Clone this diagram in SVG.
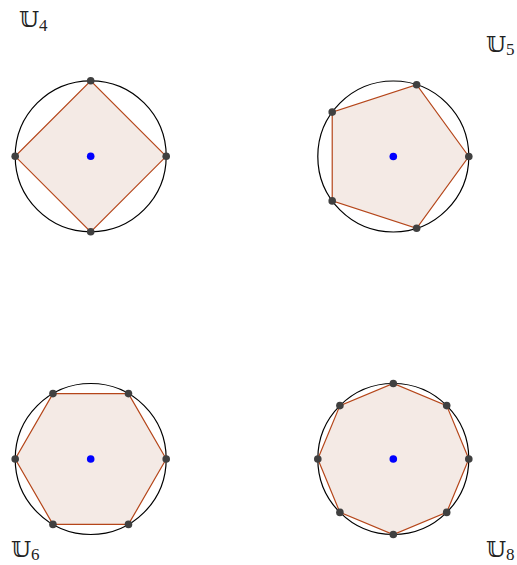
<svg xmlns="http://www.w3.org/2000/svg" width="517" height="565" viewBox="0 0 517 565">
<style>
.bg{fill:#ffffff}
.circ{fill:none;stroke:#000000;stroke-width:1.2}
.poly{fill:#f4eae5;stroke:#b5461a;stroke-width:1.2;stroke-linejoin:miter}
.v{fill:#404040}
.c{fill:#0000ff}
.lbl{font-family:"DejaVu Serif","DejaVu Sans",serif;font-size:23px;fill:#222222}
.sub{font-family:"Liberation Serif",serif;font-size:17px}
</style>
<rect class="bg" x="0" y="0" width="517" height="565"/>
<g id="U4">
<circle class="circ" cx="90.7" cy="156.3" r="75.5"/>
<polygon class="poly" points="166.2,156.3 90.7,80.8 15.2,156.3 90.7,231.8"/>
<circle class="v" cx="166.2" cy="156.3" r="3.8"/>
<circle class="v" cx="90.7" cy="80.8" r="3.8"/>
<circle class="v" cx="15.2" cy="156.3" r="3.8"/>
<circle class="v" cx="90.7" cy="231.8" r="3.8"/>
<circle class="c" cx="90.7" cy="156.3" r="3.8"/>
<text class="lbl" x="19" y="27">𝕌<tspan class="sub" dy="4">4</tspan></text>
</g>
<g id="U5">
<circle class="circ" cx="393.3" cy="156.5" r="75.5"/>
<polygon class="poly" points="468.8,156.5 416.63,84.7 332.22,112.12 332.22,200.88 416.63,228.3"/>
<circle class="v" cx="468.8" cy="156.5" r="3.8"/>
<circle class="v" cx="416.63" cy="84.7" r="3.8"/>
<circle class="v" cx="332.22" cy="112.12" r="3.8"/>
<circle class="v" cx="332.22" cy="200.88" r="3.8"/>
<circle class="v" cx="416.63" cy="228.3" r="3.8"/>
<circle class="c" cx="393.3" cy="156.5" r="3.8"/>
<text class="lbl" x="486" y="52">𝕌<tspan class="sub" dy="3">5</tspan></text>
</g>
<g id="U6">
<circle class="circ" cx="90.7" cy="459" r="75.5"/>
<polygon class="poly" points="166.2,459 128.45,393.62 52.95,393.62 15.2,459 52.95,524.38 128.45,524.38"/>
<circle class="v" cx="166.2" cy="459" r="3.8"/>
<circle class="v" cx="128.45" cy="393.62" r="3.8"/>
<circle class="v" cx="52.95" cy="393.62" r="3.8"/>
<circle class="v" cx="15.2" cy="459" r="3.8"/>
<circle class="v" cx="52.95" cy="524.38" r="3.8"/>
<circle class="v" cx="128.45" cy="524.38" r="3.8"/>
<circle class="c" cx="90.7" cy="459" r="3.8"/>
<text class="lbl" x="11" y="557">𝕌<tspan class="sub" dy="3">6</tspan></text>
</g>
<g id="U8">
<circle class="circ" cx="393.3" cy="459" r="75.5"/>
<polygon class="poly" points="468.8,459 446.69,405.61 393.3,383.5 339.91,405.61 317.8,459 339.91,512.39 393.3,534.5 446.69,512.39"/>
<circle class="v" cx="468.8" cy="459" r="3.8"/>
<circle class="v" cx="446.69" cy="405.61" r="3.8"/>
<circle class="v" cx="393.3" cy="383.5" r="3.8"/>
<circle class="v" cx="339.91" cy="405.61" r="3.8"/>
<circle class="v" cx="317.8" cy="459" r="3.8"/>
<circle class="v" cx="339.91" cy="512.39" r="3.8"/>
<circle class="v" cx="393.3" cy="534.5" r="3.8"/>
<circle class="v" cx="446.69" cy="512.39" r="3.8"/>
<circle class="c" cx="393.3" cy="459" r="3.8"/>
<text class="lbl" x="486" y="557">𝕌<tspan class="sub" dy="3">8</tspan></text>
</g>
</svg>
